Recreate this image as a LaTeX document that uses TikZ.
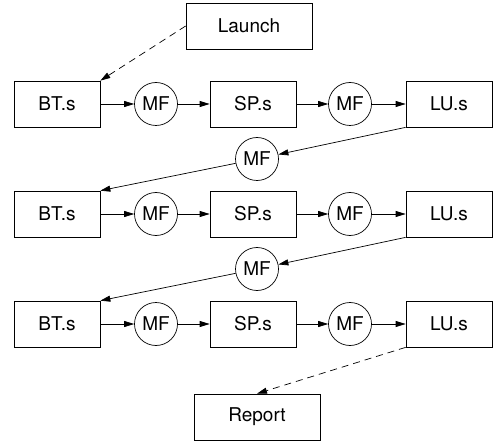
\documentclass[tikz,border=0pt]{standalone}
\usepackage{fontspec}
\setmainfont{TeX Gyre Heros}
\usetikzlibrary{arrows.meta}
\begin{document}
\begin{tikzpicture}[x=1pt,y=-1pt,
  font=\fontsize{19}{22}\selectfont,
  box/.style={draw, line width=0.7pt, minimum width=86pt, minimum height=46pt, inner sep=0pt},
  wbox/.style={box, minimum width=126pt},
  mf/.style={draw, circle, line width=0.7pt, minimum size=43pt, inner sep=0pt},
  arr/.style={-{Triangle[length=10pt,width=6pt]}, line width=0.7pt},
  darr/.style={arr, dash pattern=on 7pt off 5pt}]
\useasboundingbox (0,0) rectangle (494,443);
\node[wbox] (launch) at (249,26) {Launch};
\foreach \r/\y in {1/104,2/214,3/324}{
  \node[box] (bt\r) at (57,\y) {BT.s};
  \node[mf] (mfa\r) at (156,\y) {MF};
  \node[box] (sp\r) at (253,\y) {SP.s};
  \node[mf] (mfb\r) at (350,\y) {MF};
  \node[box] (lu\r) at (449,\y) {LU.s};
  \draw[arr] (bt\r) -- (mfa\r);
  \draw[arr] (mfa\r) -- (sp\r);
  \draw[arr] (sp\r) -- (mfb\r);
  \draw[arr] (mfb\r) -- (lu\r);
}
\node[mf] (mfc1) at (257,159) {MF};
\node[mf] (mfc2) at (257,269) {MF};
\draw[arr] (lu1.south west) -- (mfc1);
\draw[arr] (mfc1) -- (bt2.north east);
\draw[arr] (lu2.south west) -- (mfc2);
\draw[arr] (mfc2) -- (bt3.north east);
\node[wbox] (report) at (257,417) {Report};
\draw[darr] (launch.west) -- (bt1.north east);
\draw[darr] (lu3.south west) -- (report.north);
\end{tikzpicture}
\end{document}
